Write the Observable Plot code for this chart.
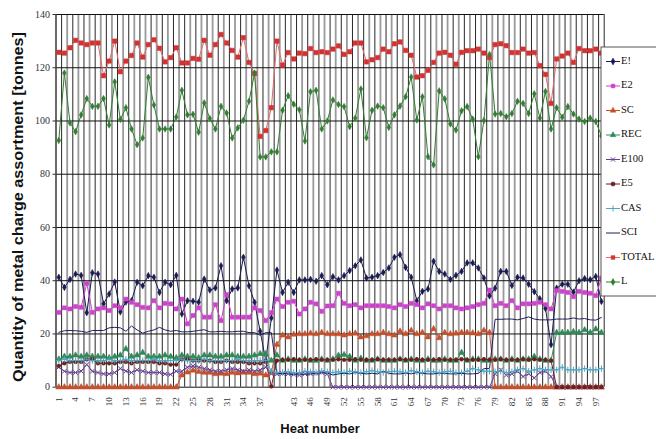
<!DOCTYPE html>
<html>
<head>
<meta charset="utf-8">
<script src="https://cdn.jsdelivr.net/npm/d3@7"></script>
<script src="https://cdn.jsdelivr.net/npm/@observablehq/plot@0.6"></script>
<style>
  html, body { margin: 0; padding: 0; background: #fff; }
  #chart { width: 656px; height: 439px; overflow: hidden; }
</style>
</head>
<body>
<div id="chart"></div>
<script>
// ---- Categories and ticks ----
const heats = [
  1,2,3,4,5,6,7,8,9,10, 11,12,13,14,15,16,17,18,19,20,
  21,22,23,24,25,26,27,28,29,30, 31,32,33,34,35,36,37,38,39,40,
  41,42,43,44,45,46,47,48,49,50, 51,52,53,54,55,56,57,58,59,60,
  61,62,63,64,65,66,67,68,69,70, 71,72,73,74,75,76,77,78,79,80,
  81,82,83,84,85,86,87,88,89,90, 91,92,93,94,95,96,97,98
];
const xTickLabels = [1,4,7,10,13,16,19,22,25,28,31,34,37,43,46,49,52,55,58,61,64,67,70,73,76,79,82,85,88,91,94,97];
const yTicks = [0,20,40,60,80,100,120,140];

// ---- Series values (tonnes), heats 1..98 ----
const E1 = [
  41.3,37.5,40.5,42.5,42,28,43,42.5,31.3,35,
  39.5,28.3,32,32.5,39.4,38.1,41.9,41.3,35.6,39.4,
  38.5,42,27.5,32.5,32.3,31.9,40.6,36.5,37.3,45.6,
  32.5,36.9,37.3,48.8,38.1,31.9,21,10,26,44,
  35.6,39.4,35.6,40.3,40.3,40.5,39.8,41.9,38.5,41.5,
  40.3,41.9,43.8,45.6,47.8,41,41.3,41.9,43.1,44.8,
  48.8,49.8,45,41.3,32.5,36,36.9,47.3,43.5,42.5,
  40.5,42,43.5,46.7,46.7,44.8,41,34.3,37.2,43.5,
  43.5,38.2,41.3,41,38.7,35.9,33.2,29.6,16,37.2,
  38.7,38.7,35.7,40,40.8,40.4,41.6,32.2
];
const E2 = [
  28.1,29.8,29.4,30.3,30,39,28.1,29.4,29.8,28.8,
  30.6,29.8,33.1,31.9,31,30,29.8,32.5,29.8,31.5,
  31.3,29.4,33.1,23.8,26.9,29.8,26.3,26.3,31,25,
  34.8,26.3,26.3,26.3,26.3,29.8,28.8,25,28,33.1,
  30.3,31.9,32.3,27.5,29.4,31.9,31.3,28.5,30.5,30.6,
  35.3,31.5,30.6,31,29.8,30.6,30.6,30.6,30.6,30.3,
  29.8,31,30.3,31.5,31,29.8,31.3,30.6,29.4,30.6,
  30.6,29.8,29.4,29.8,30.3,31,31.5,36.5,30.6,31.5,
  30.6,32.5,29.8,31.3,31.3,31.5,31.9,31,29.4,36.3,
  36,35.6,34,36,35.6,35.3,34.4,41
];
const SC = [
  0,0,0,0,0,0,0,0,0,0,
  0,0,0,0,0,0,0,0,0,0,
  0,0,4.5,5.6,6.3,5.8,5.5,5.5,5,5.2,
  5,5.5,5.3,5.5,5.5,5,5.2,4.5,5.5,16,
  19.5,18.8,19.8,20,20,20.2,20,20.5,20,20,
  20,19.5,20,20.2,18.8,19.2,20,20,20.5,20,
  19.5,21,20,21.3,20,20.5,18.8,21.9,18.5,20.5,
  20,20.2,20.5,20.5,20.3,20,21.3,20.5,0,0,
  0,0,0,0,0,0,0,0,0,0,
  0,0,0,0,0,0,0,0
];
const REC = [
  10.5,11.5,11.5,12,11.5,12,11.5,11.5,11.5,11,
  11.5,12,14.4,11.5,12,13,11.5,11.5,11.5,12,
  11.5,11,12,11.5,11.5,11,12,12,11.5,11.5,
  12,12,11.5,11.5,11.5,12,12.5,12.5,10,12,
  10,10.5,10,10,10.5,10,10,10.5,10,10.5,
  11.9,12.2,11.5,10,10.8,10,10,10.5,10,10,
  10,10.5,10,10.5,10,10,10.5,10,10,10.5,
  10,10,13,10,10.5,10.5,10,10,10.5,10.5,
  10,10.5,10,10.5,10.5,11.5,10.5,10,10,20.5,
  20.5,20.5,20.8,20.5,21.5,20.5,21.8,20.5
];
const E100 = [
  7.5,6,5.5,5.5,6,8.5,6,5.5,5,5,
  5.5,7,6,5.5,6.5,6,5.5,5.5,5.5,5,
  4.8,6,6,7.5,8,7.5,7,6.5,6,6,
  6.5,7,6.5,6,6.5,6,6.5,7.5,5,5,
  5.2,5,4.8,4.5,5,5,5.2,5.5,5,0,
  0,0,0,0,0,0,0,0,0,0,
  0,0,0,0,0,0,0,0,0,0,
  0,0,0,0,0,0,0,0,5,6.5,
  4.5,5,6,4,5,3.5,5.5,6,4,0,
  0,0,0,0,0,0,0,0
];
const E5 = [
  8,9,9.5,9.5,9.5,10.5,10.5,9,9,9,
  9,9.5,9.5,9,9.5,9.5,9.5,9.5,9,9,
  8.5,8.5,10.5,10.5,10,10,10,10,9.5,9.5,
  10,9.5,9.5,9.5,9,9,9,9.5,0.3,10,
  10.3,10.3,10.5,10.3,10.3,10.3,10.5,10.3,10.3,10.3,
  10.5,10.3,10.3,10.5,10.3,10.3,10.3,10.5,10.3,10.3,
  10.3,10.5,10.3,10.3,10.5,10.3,10.3,10.3,10.5,10.3,
  10.3,10.3,10.5,10.3,10.3,10.3,10.5,10.3,10.3,10.5,
  10.3,10.3,10.3,10.5,10.3,10.5,10.3,10.3,10,0,
  0,0,0,0,0,0,0,0
];
const CAS = [
  10,10.5,10,10,10,10.5,10,10,10,10.5,
  10,10,10.5,10,10,10,10,10.5,10,10,
  10,10,10.5,10,10,10,10.5,10,10,10,
  10,10,10.5,10,10,10,10,10,6,5.5,
  5.5,5.8,5.5,5.5,6,5.8,5.5,6,5.8,5.5,
  5.8,5.5,6,5.8,5.5,5.8,6.2,5.8,5.5,5.8,
  6,5.8,5.5,6.2,5.8,5.5,6,5.8,5.5,5.8,
  6,5.5,5.5,6,7,6.5,6,6,5.8,6,
  5.5,5.8,6.5,7,6,6.5,7,6.5,6.5,6.5,
  7.5,6.5,6.5,6.5,7,6.5,6.5,7
];
const SCI = [
  20.6,21.2,21.3,21.2,21,20.6,21.3,21.3,21.3,22.3,
  22.5,22.3,21,23,21.5,20.3,21,21.5,22.5,21.5,
  21,21.3,20.8,20.8,21,21.3,21.6,20.8,20.8,21,
  20.8,20.8,21,21,20.5,20.5,19.5,20.5,20.5,5,
  5.2,5,4.8,5,4.8,5,5.2,5.5,5.3,4.6,
  5,5.2,5,5.5,5.2,5,5.2,5,6,5.2,
  5,5,5.3,5,5.5,5.2,5,5,5.3,5.2,
  5,5,5.2,5,5,5.2,7,7,25.5,25.5,
  25.6,25.6,25.3,25.8,26.4,25.6,25.3,25.3,25.3,25.6,
  25.6,25.6,26,25.6,25.8,25.3,25.2,26.2
];
const TOTAL = [
  125.8,125.5,127.5,130.3,129.3,128.7,129.3,129.3,117,122.5,
  130,118.5,122.5,124.6,129.3,124,128.7,130.5,127.3,122.2,
  123.8,127.5,121.8,121.8,123.5,123.2,130.3,124.7,128.7,132.5,
  129.3,126.5,124,131.3,122,117.8,94.2,96.4,105,130,
  121,125.7,123.3,125.5,125.3,127.2,125.7,126,125.7,127,
  128.2,125,126,129.3,129.3,122.2,123,123.8,127,126,
  129,129.7,126.5,124.7,116.5,117,119,122,125.5,125.8,
  124.7,121.3,125.8,126.4,126.4,127,125.5,123.8,128.7,129,
  128.3,125.7,125.7,127,125.5,125.7,120.8,117.5,106.6,123.3,
  124.4,125.5,122,127.2,126.4,126.4,127,125.5
];
const L = [
  92.7,118,99.3,96,102.3,108.4,105.5,105.5,108.4,98.5,
  114.7,100.6,105,97,91.1,93.6,116.4,106,97,97,
  97,101.5,111.5,102.3,102.5,95.8,106.8,100.9,97,105.5,
  103,93.6,97.4,100.3,107.4,118,86.5,86.5,88.4,88.4,
  104,109.5,106.3,104.2,92.5,111,111.5,97,100,107.9,
  106.2,105.4,97.9,101.1,112,93.7,104,105.6,105,97.6,
  102.3,105.6,109.1,116.5,100.4,109.1,86.6,83.5,111.3,108.3,
  98.9,96.6,103.8,105.4,100.7,86.6,100.2,125,102.6,102.8,
  101.6,102.8,107.4,106.6,102.8,110.2,101.1,111.1,97,105,
  101.4,105.4,102.6,100.7,99.8,101.1,99.8,94.4
];

// ---- Series styling (legend order) ----
const seriesNames = ["E!","E2","SC","REC","E100","E5","CAS","SCI","TOTAL","L"];
const seriesValues = [E1,E2,SC,REC,E100,E5,CAS,SCI,TOTAL,L];
const seriesStyle = {
  "E!":   {line:"#1a1a55", fill:"#1a1a55", symbol:"diamond",  r:2.0},
  "E2":   {line:"#d040d0", fill:"#d040d0", symbol:"square",   r:2.3},
  "SC":   {line:"#c8502a", fill:"#c8502a", symbol:"triangle", r:2.3},
  "REC":  {line:"#2e8b57", fill:"#2e8b57", symbol:"triangle", r:2.3},
  "E100": {line:"#6a3d9a", fill:"none",    symbol:"times",    r:2.2},
  "E5":   {line:"#6b1f1f", fill:"#6b1f1f", symbol:"circle",   r:1.9},
  "CAS":  {line:"#4aa8c8", fill:"none",    symbol:"plus",     r:2.2},
  "SCI":  {line:"#1e1e60", fill:null,      symbol:null,       r:0},
  "TOTAL":{line:"#e06a6a", fill:"#d63030", symbol:"square",   r:2.5},
  "L":    {line:"#2f7f2f", fill:"#2f7f2f", symbol:"diamond",  r:2.0}
};

const rows = seriesNames.map((name, s) =>
  heats.map((h, i) => ({series: name, heat: h, value: seriesValues[s][i]}))
);

const boundsGray = heats.filter((h, i) => i % 2 === 0).map(h => h - 0.5);
const boundsBlack = heats.filter((h, i) => i % 2 === 1).map(h => h - 0.5).concat([heats[heats.length - 1] + 0.5]);

const marks = [
  Plot.ruleX(boundsGray, {x: d => d, stroke: "#9a9a9a", strokeWidth: 1.8}),
  Plot.ruleX(boundsBlack, {x: d => d, stroke: "#111", strokeWidth: 0.9}),
  Plot.ruleY(yTicks, {y: d => d, stroke: "#111", strokeWidth: 1}),
  Plot.ruleX([heats[0] - 0.5], {stroke: "#444", strokeWidth: 1.2}),
  Plot.axisY({ticks: yTicks, tickSize: 3, tickPadding: 3, fontSize: 10,
              fontFamily: "Liberation Serif, serif", fill: "#333", stroke: "#333", label: null}),
  Plot.axisX({ticks: xTickLabels, tickRotate: -90, tickSize: 0, tickPadding: 10,
              fontSize: 9, fontFamily: "Liberation Serif, serif", fill: "#333", label: null})
];
rows.forEach((data, s) => {
  const st = seriesStyle[seriesNames[s]];
  marks.push(Plot.line(data, {x: "heat", y: "value", stroke: st.line, strokeWidth: 1}));
});
rows.forEach((data, s) => {
  const st = seriesStyle[seriesNames[s]];
  if (!st.symbol) return;
  const hollow = st.fill === "none";
  marks.push(Plot.dot(data, {x: "heat", y: "value", symbol: st.symbol, r: st.r,
    fill: hollow ? "none" : st.fill, stroke: hollow ? st.line : st.fill, strokeWidth: hollow ? 1 : 0.5}));
});

const chart = Plot.plot({
  width: 656,
  height: 439,
  marginLeft: 55.5,
  marginRight: 52.3,
  marginTop: 14,
  marginBottom: 52.3,
  style: {background: "#fff", overflow: "visible"},
  x: {type: "linear", domain: [heats[0] - 0.5, heats[heats.length - 1] + 0.5]},
  y: {domain: [0, 140]},
  marks
});
document.getElementById("chart").appendChild(chart);

// ---- Titles and legend drawn into the same SVG ----
const svg = d3.select(chart);
svg.append("text")
  .attr("transform", "translate(19,207) rotate(-90)")
  .attr("text-anchor", "middle")
  .attr("dominant-baseline", "middle")
  .attr("textLength", 350)
  .attr("lengthAdjust", "spacingAndGlyphs")
  .style("font", "bold 14.5px 'Liberation Sans', Arial, sans-serif")
  .attr("fill", "#111")
  .text("Quantity of metal charge assortment [tonnes]");
svg.append("text")
  .attr("x", 320).attr("y", 430)
  .attr("text-anchor", "middle")
  .attr("dominant-baseline", "middle")
  .style("font", "bold 13px 'Liberation Sans', Arial, sans-serif")
  .attr("fill", "#111")
  .text("Heat number");

const lg = svg.append("g");
lg.append("rect").attr("x", 601).attr("y", 47).attr("width", 70).attr("height", 249)
  .attr("fill", "#fff").attr("stroke", "#555").attr("stroke-width", 1);
const symMap = {diamond: d3.symbolDiamond, square: d3.symbolSquare, triangle: d3.symbolTriangle,
  times: d3.symbolTimes, circle: d3.symbolCircle, plus: d3.symbolPlus};
seriesNames.forEach((name, i) => {
  const st = seriesStyle[name];
  const y = 61.5 + i * 24.5;
  lg.append("line").attr("x1", 606).attr("x2", 620).attr("y1", y).attr("y2", y)
    .attr("stroke", st.line).attr("stroke-width", 1);
  if (st.symbol) {
    const hollow = st.fill === "none";
    lg.append("path")
      .attr("d", d3.symbol(symMap[st.symbol], 14)())
      .attr("transform", `translate(613,${y})`)
      .attr("fill", hollow ? "none" : st.fill)
      .attr("stroke", hollow ? st.line : st.fill)
      .attr("stroke-width", hollow ? 1 : 0.5);
  }
  lg.append("text").attr("x", 621).attr("y", y)
    .attr("text-anchor", "start")
    .attr("dominant-baseline", "middle")
    .style("font", "10.5px 'Liberation Serif', serif")
    .attr("fill", "#111")
    .text(name);
});
</script>
</body>
</html>
